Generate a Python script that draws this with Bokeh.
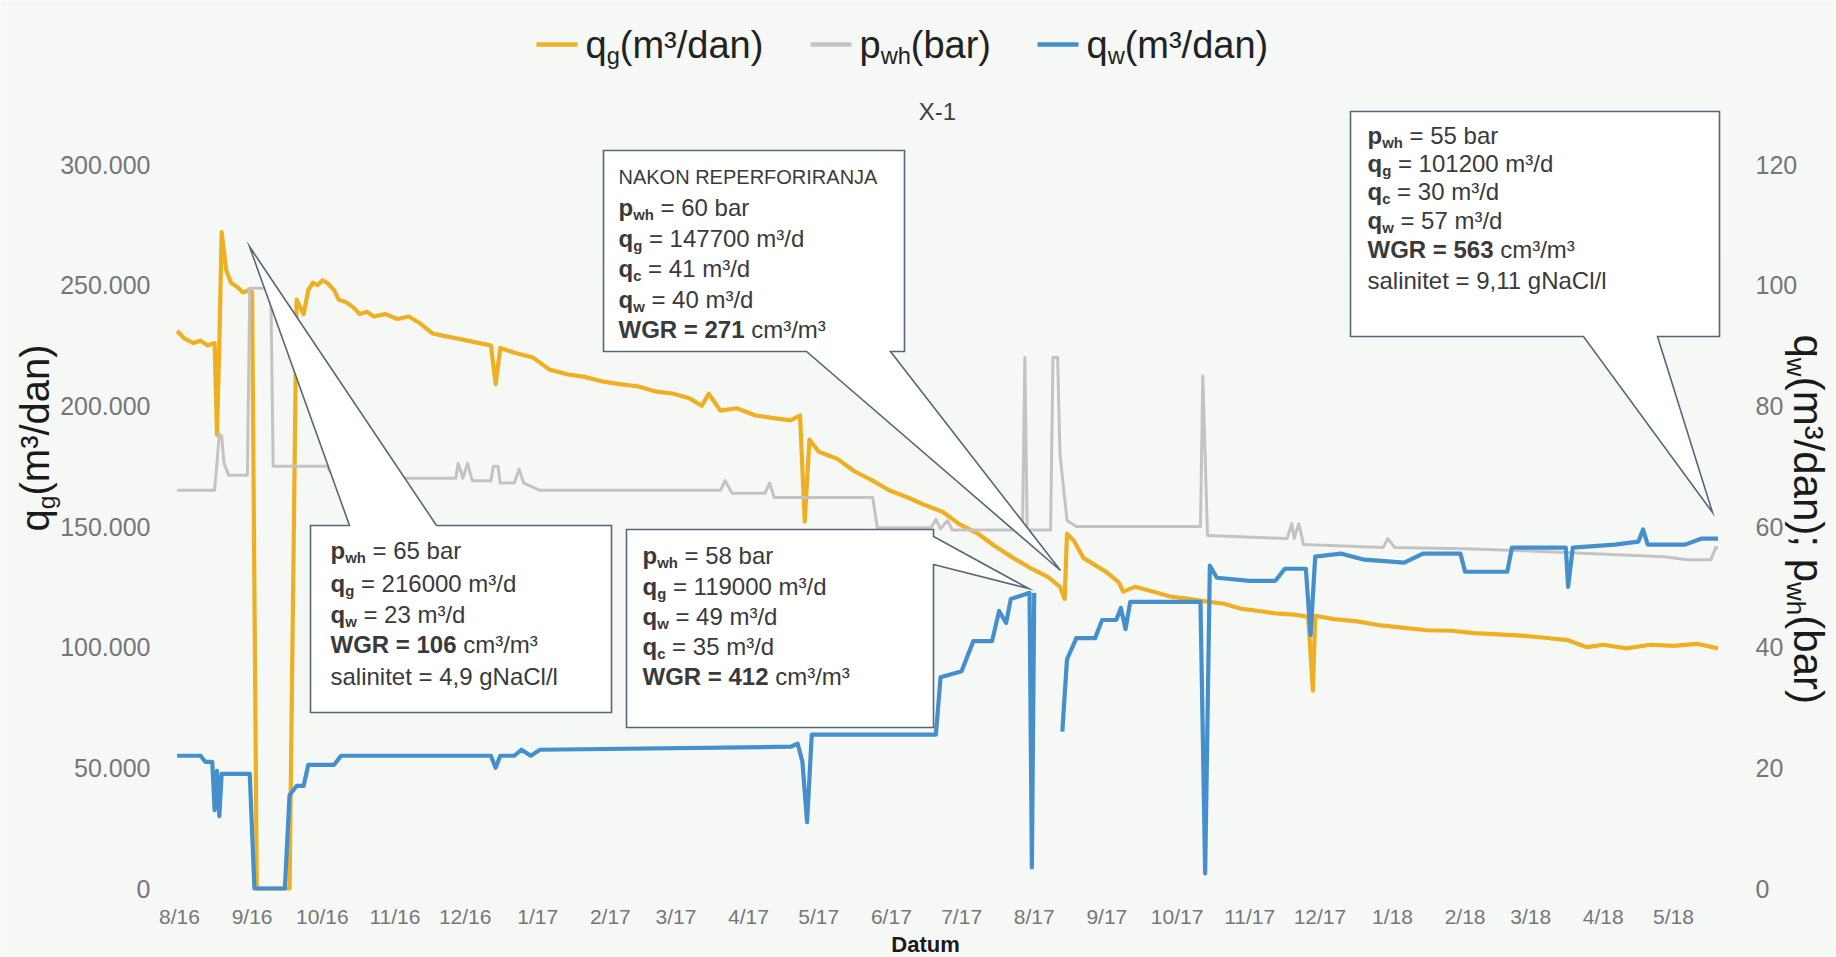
import numpy as np
import pandas as pd
from bokeh.plotting import figure
from bokeh.models import Range1d, LinearAxis, FixedTicker, CustomJSTickFormatter, Label
from bokeh.embed import file_html
from bokeh.resources import INLINE

# ---------------- data ----------------
X_TICK_LABELS = ["8/16", "9/16", "10/16", "11/16", "12/16", "1/17", "2/17", "3/17", "4/17",
                 "5/17", "6/17", "7/17", "8/17", "9/17", "10/17", "11/17", "12/17", "1/18",
                 "2/18", "3/18", "4/18", "5/18"]
LEFT_TICKS = [0, 50000, 100000, 150000, 200000, 250000, 300000]
LEFT_TICK_LABELS = ["0", "50.000", "100.000", "150.000", "200.000", "250.000", "300.000"]
RIGHT_TICKS = [0, 20, 40, 60, 80, 100, 120]
RIGHT_TICK_LABELS = ["0", "20", "40", "60", "80", "100", "120"]

QG_DATES = ["2016-07-31", "2016-08-03", "2016-08-07", "2016-08-10", "2016-08-13", "2016-08-16",
            "2016-08-17", "2016-08-18", "2016-08-19", "2016-08-21", "2016-08-23", "2016-08-26",
            "2016-08-28", "2016-08-31", "2016-09-01", "2016-09-03", "2016-09-17", "2016-09-20",
            "2016-09-21", "2016-09-23", "2016-09-25", "2016-09-27", "2016-09-29", "2016-10-01",
            "2016-10-03", "2016-10-06", "2016-10-08", "2016-10-11", "2016-10-14", "2016-10-17",
            "2016-10-20", "2016-10-23", "2016-10-28", "2016-11-02", "2016-11-07", "2016-11-12",
            "2016-11-17", "2016-11-22", "2016-11-27", "2016-12-02", "2016-12-07", "2016-12-12",
            "2016-12-14", "2016-12-16", "2016-12-22", "2016-12-30", "2017-01-06", "2017-01-14",
            "2017-01-21", "2017-01-29", "2017-02-05", "2017-02-13", "2017-02-20", "2017-02-28",
            "2017-03-07", "2017-03-12", "2017-03-15", "2017-03-20", "2017-03-27", "2017-04-04",
            "2017-04-11", "2017-04-19", "2017-04-23", "2017-04-25", "2017-04-27", "2017-05-01",
            "2017-05-09", "2017-05-16", "2017-05-24", "2017-05-31", "2017-06-08", "2017-06-15",
            "2017-06-23", "2017-06-30", "2017-07-08", "2017-07-15", "2017-07-23", "2017-07-30",
            "2017-08-07", "2017-08-12", "2017-08-14", "2017-08-15", "2017-08-18", "2017-08-22",
            "2017-08-27", "2017-09-01", "2017-09-06", "2017-09-08", "2017-09-13", "2017-09-21",
            "2017-09-28", "2017-10-06", "2017-10-13", "2017-10-21", "2017-10-28", "2017-11-05",
            "2017-11-12", "2017-11-20", "2017-11-26", "2017-11-28", "2017-11-29", "2017-12-07",
            "2017-12-17", "2017-12-27", "2018-01-06", "2018-01-16", "2018-01-26", "2018-02-05",
            "2018-02-15", "2018-02-25", "2018-03-07", "2018-03-17", "2018-03-25", "2018-04-01",
            "2018-04-11", "2018-04-21", "2018-05-01", "2018-05-11", "2018-05-20"]
QG_VALUES = [231000, 228000, 226000, 227000, 225000, 226000,
             188000, 225000, 272000, 256000, 251000, 249000,
             247000, 248000, 247000, 0, 0, 244000,
             242000, 238000, 248000, 251000, 250000, 252000,
             251000, 248000, 244000, 243000, 241000, 238000,
             239000, 237000, 238000, 236000, 237000, 234000,
             230000, 229000, 228000, 227000, 226000, 225000,
             209000, 224000, 222000, 220000, 215000, 213000,
             212000, 210000, 209000, 208000, 206000, 205000,
             203000, 200000, 205000, 198000, 199000, 196000,
             195000, 194000, 196000, 152000, 186000, 181000,
             178000, 173000, 169000, 165000, 162000, 159000,
             156000, 151000, 147000, 142000, 137000, 133000,
             129000, 125000, 120000, 147000, 144000, 137000,
             134000, 131000, 127000, 123000, 125000, 123000,
             121000, 120000, 119000, 118000, 116000, 115000,
             114000, 113500, 112600, 82000, 113000, 111600,
             110700, 109000, 108000, 107000, 106800, 105800,
             105300, 104800, 103900, 102900, 100000, 101000,
             99500, 101000, 100500, 101400, 99500]

PWH_DATES = ["2016-07-31", "2016-08-16", "2016-08-18", "2016-08-19", "2016-08-20", "2016-08-22",
             "2016-08-30", "2016-08-31", "2016-09-09", "2016-09-10", "2016-10-03", "2016-10-05",
             "2016-10-07", "2016-10-09", "2016-11-27", "2016-11-28", "2016-11-30", "2016-12-02",
             "2016-12-04", "2016-12-12", "2016-12-13", "2016-12-15", "2016-12-16", "2016-12-22",
             "2016-12-24", "2016-12-26", "2017-01-02", "2017-03-20", "2017-03-22", "2017-03-25",
             "2017-04-08", "2017-04-10", "2017-04-12", "2017-05-24", "2017-05-26", "2017-06-18",
             "2017-06-20", "2017-06-22", "2017-06-25", "2017-06-27", "2017-07-27", "2017-07-28",
             "2017-07-29", "2017-08-08", "2017-08-09", "2017-08-11", "2017-08-12", "2017-08-15",
             "2017-08-19", "2017-10-11", "2017-10-12", "2017-10-14", "2017-11-17", "2017-11-19",
             "2017-11-20", "2017-11-22", "2017-11-24", "2017-12-28", "2017-12-30", "2018-01-02",
             "2018-02-01", "2018-02-26", "2018-03-28", "2018-04-27", "2018-05-07", "2018-05-17",
             "2018-05-19", "2018-05-20"]
PWH_VALUES = [66, 66, 75.3, 75, 70.5, 68.5,
              68.5, 99.5, 99.5, 70, 70, 68.7,
              69.5, 68, 68, 70.5, 68, 70.5,
              67.6, 67.6, 70, 70, 67.2, 67.2,
              69.5, 67.2, 66, 66, 67.6, 65.5,
              65.5, 67.2, 64.8, 64.8, 59.8, 59.8,
              61.2, 59.6, 61, 59.4, 59.4, 88,
              59.4, 59.4, 88, 88, 72, 61,
              60, 60, 85, 58.5, 58, 60.5,
              58, 60.5, 57, 56.5, 58, 56.5,
              56.3, 56, 55.5, 55, 54.5, 54.5,
              56.5, 56.5]

QW_DATES = ["2016-07-31", "2016-08-10", "2016-08-12", "2016-08-15", "2016-08-16", "2016-08-17",
            "2016-08-18", "2016-08-19", "2016-08-31", "2016-09-02", "2016-09-15", "2016-09-17",
            "2016-09-20", "2016-09-23", "2016-09-25", "2016-10-06", "2016-10-09", "2016-12-12",
            "2016-12-14", "2016-12-16", "2016-12-22", "2016-12-25", "2016-12-29", "2017-01-02",
            "2017-04-19", "2017-04-22", "2017-04-24", "2017-04-26", "2017-04-28", "2017-06-20",
            "2017-06-22", "2017-07-01", "2017-07-06", "2017-07-14", "2017-07-17", "2017-07-20",
            "2017-07-22", "2017-07-26", "2017-07-30", "2017-07-31", "2017-08-01", "2017-08-02",
            "2017-08-13", "2017-08-15", "2017-08-19", "2017-08-27", "2017-08-30", "2017-09-05",
            "2017-09-07", "2017-09-09", "2017-09-11", "2017-10-10", "2017-10-11", "2017-10-13",
            "2017-10-15", "2017-10-18", "2017-11-01", "2017-11-12", "2017-11-16", "2017-11-25",
            "2017-11-27", "2017-11-29", "2017-12-10", "2017-12-20", "2018-01-06", "2018-01-14",
            "2018-01-30", "2018-02-01", "2018-02-19", "2018-02-21", "2018-03-16", "2018-03-17",
            "2018-03-19", "2018-04-06", "2018-04-16", "2018-04-18", "2018-04-20", "2018-05-06",
            "2018-05-13", "2018-05-20"]
QW_VALUES = [22, 22, 21, 21, 13, 19.5,
             12, 19, 19, 0, 0, 15.5,
             17, 17, 20.5, 20.5, 22, 22,
             20, 22, 22, 23, 22, 23,
             23.5, 24, 21, 11, 25.5, 25.5,
             35, 36, 41, 41, 46, 44,
             48, 48.5, 49, 3.5, 49, float("nan"),
             26, 38, 41.5, 41.5, 44.5, 44.5,
             46.5, 43, 47.5, 47.5, 47.5, 2.5,
             53.5, 51.5, 51, 51, 53, 53,
             42, 55, 55.5, 54.5, 54, 55.5,
             55.5, 52.5, 52.5, 56.5, 56.5, 50,
             56.5, 57, 57.5, 59.5, 57, 57,
             58, 58]

# ---------------- layout ----------------
W, H = 1836, 957
PXD = 2.3417                         # px per day
MS_DAY = 86400000.0
T0MS = pd.Timestamp("2016-08-01").value / 1e6
K = 300000.0 / 724.0                 # left-axis units per px
RATIO = 2500.0                       # left / right axis scale

BG = "#F6F8F6"
ORANGE = "#EEB022"
GREY = "#C3C3C3"
BLUE = "#4590CC"
BOX_LINE = "#56677A"
TXT = "#3a3a3a"
FONT = "Liberation Sans"


def X(ax):  # page x px -> data (ms)
    return T0MS + (ax - 179.0) / PXD * MS_DAY


def Y(ay):  # page y px -> left-axis data
    return (888.0 - ay) * K


p = figure(width=W, height=H, x_axis_type="datetime",
           x_range=Range1d(X(0), X(W)), y_range=Range1d(Y(H), Y(0)),
           output_backend="svg", toolbar_location=None, tools="",
           min_border=0, min_border_left=0, min_border_right=0,
           min_border_top=0, min_border_bottom=0,
           background_fill_color=BG, border_fill_color=BG)
p.outline_line_color = None
p.grid.visible = False
p.extra_y_ranges = {"right": Range1d(Y(H) / RATIO, Y(0) / RATIO)}

FMT_CODE = """
for (let i = 0; i < tv.length; i++) { if (Math.abs(tv[i] - tick) < 1e-6 * Math.max(1, Math.abs(tick))) return tl[i]; }
return "";
"""

month_ms = []
for lab in X_TICK_LABELS:
    m, yy = lab.split("/")
    month_ms.append(pd.Timestamp(2000 + int(yy), int(m), 1).value / 1e6)


def style_axis(ax, size, standoff):
    ax.axis_line_color = None
    ax.major_tick_line_color = None
    ax.minor_tick_line_color = None
    ax.major_tick_out = 0
    ax.major_tick_in = 0
    ax.major_label_text_font = FONT
    ax.major_label_text_font_size = size
    ax.major_label_text_color = "#767676"
    ax.major_label_standoff = standoff


xa = p.xaxis[0]
xa.ticker = FixedTicker(ticks=month_ms)
xa.formatter = CustomJSTickFormatter(args=dict(tv=month_ms, tl=X_TICK_LABELS), code=FMT_CODE)
xa.fixed_location = 0
style_axis(xa, "21px", 16)

ya = p.yaxis[0]
ya.ticker = FixedTicker(ticks=LEFT_TICKS)
ya.formatter = CustomJSTickFormatter(args=dict(tv=LEFT_TICKS, tl=LEFT_TICK_LABELS), code=FMT_CODE)
ya.fixed_location = X(160)
style_axis(ya, "25px", 10)

ra = LinearAxis(y_range_name="right")
ra.ticker = FixedTicker(ticks=RIGHT_TICKS)
ra.formatter = CustomJSTickFormatter(args=dict(tv=RIGHT_TICKS, tl=RIGHT_TICK_LABELS), code=FMT_CODE)
ra.fixed_location = X(1740)
style_axis(ra, "25px", 15)
p.add_layout(ra, "right")

# ---------------- series ----------------
p.line(pd.to_datetime(QG_DATES), np.array(QG_VALUES, dtype=float),
       line_color=ORANGE, line_width=4.2, line_join="round")
p.line(pd.to_datetime(PWH_DATES), np.array(PWH_VALUES, dtype=float), y_range_name="right",
       line_color=GREY, line_width=3, line_join="round")
p.line(pd.to_datetime(QW_DATES), np.array(QW_VALUES, dtype=float), y_range_name="right",
       line_color=BLUE, line_width=4.2, line_join="round")

# ---------------- callout shapes ----------------
CALLOUT_SHAPES = [
    [(310, 525), (349, 525), (249, 246), (436, 525), (611, 525), (611, 712), (310, 712)],
    [(626, 529), (933, 529), (933, 536), (1028, 588), (933, 564), (933, 727), (626, 727)],
    [(603, 150), (904, 150), (904, 351), (890, 351), (1060, 570), (806, 351), (603, 351)],
    [(1350, 111), (1719, 111), (1719, 336), (1657, 336), (1712, 512), (1583, 336), (1350, 336)],
]
for pts in CALLOUT_SHAPES:
    p.patch([X(a) for a, b in pts], [Y(b) for a, b in pts], fill_color="#FFFFFF",
            line_color=BOX_LINE, line_width=1.6, line_join="miter")

# ---------------- rich text helper ----------------
REG_W = {" ": .278, "(": .333, ")": .333, ",": .278, "-": .333, ".": .278, "/": .278, ";": .278,
         "=": .584, "A": .667, "C": .722, "D": .722, "E": .667, "F": .611, "G": .778, "I": .278,
         "J": .5, "K": .667, "N": .722, "O": .778, "P": .667, "R": .722, "W": .944, "X": .667,
         "a": .556, "b": .556, "c": .5, "d": .556, "e": .556, "g": .556, "h": .556, "i": .222,
         "l": .222, "m": .833, "n": .556, "p": .556, "q": .556, "r": .333, "s": .5, "t": .278,
         "u": .556, "w": .722, "³": .333}
BOLD_W = {" ": .278, "=": .584, "G": .778, "R": .722, "W": .944, "c": .556, "g": .611, "h": .611,
          "p": .611, "q": .611, "w": .778, "D": .722, "a": .556, "t": .333, "u": .611, "m": .889}
SUB_SCALE, SUB_SHIFT = 0.62, 0.30


def tw(s, fs, bold):
    tbl = BOLD_W if bold else REG_W
    return sum(tbl.get(c, 0.556) for c in s) * fs


def rich(ax, ay, pieces, size, color=TXT, angle=0.0):
    pos = 0.0
    for txt, kind in pieces:
        bold = "b" in kind
        sub = "s" in kind
        fs = size * SUB_SCALE if sub else size
        sh = size * SUB_SHIFT if sub else 0.0
        core = txt.lstrip(" ")
        pos += tw(txt[:len(txt) - len(core)], fs, bold)   # leading spaces advance only
        if angle == 0:
            px, py = ax + pos, ay + sh
        elif angle > 0:
            px, py = ax + sh, ay - pos
        else:
            px, py = ax - sh, ay + pos
        p.add_layout(Label(x=X(px), y=Y(py), text=core, text_font=FONT,
                           text_font_size=f"{fs:.1f}px",
                           text_font_style="bold" if bold else "normal",
                           text_color=color, text_align="left", text_baseline="middle",
                           angle=angle))
        pos += tw(core, fs, bold)


def kv(sym, sub, rest):
    return [(sym, "b"), (sub, "sb"), (rest, "r")]


CALLOUT_TEXT = [
    (330, [550, 583, 614, 644, 676], [
        kv("p", "wh", " = 65 bar"), kv("q", "g", " = 216000 m³/d"), kv("q", "w", " = 23 m³/d"),
        [("WGR = 106", "b"), (" cm³/m³", "r")], [("salinitet = 4,9 gNaCl/l", "r")]]),
    (642, [555, 586, 616, 646, 676], [
        kv("p", "wh", " = 58 bar"), kv("q", "g", " = 119000 m³/d"), kv("q", "w", " = 49 m³/d"),
        kv("q", "c", " = 35 m³/d"), [("WGR = 412", "b"), (" cm³/m³", "r")]]),
    (618, [207, 238, 268, 299, 329], [
        kv("p", "wh", " = 60 bar"), kv("q", "g", " = 147700 m³/d"), kv("q", "c", " = 41 m³/d"),
        kv("q", "w", " = 40 m³/d"), [("WGR = 271", "b"), (" cm³/m³", "r")]]),
    (1367, [135, 163, 191, 220, 249, 280], [
        kv("p", "wh", " = 55 bar"), kv("q", "g", " = 101200 m³/d"), kv("q", "c", " = 30 m³/d"),
        kv("q", "w", " = 57 m³/d"), [("WGR = 563", "b"), (" cm³/m³", "r")],
        [("salinitet = 9,11 gNaCl/l", "r")]]),
]
for ax, ys, lines in CALLOUT_TEXT:
    for ay, pieces in zip(ys, lines):
        rich(ax, ay, pieces, 24)
rich(618, 176, [("NAKON REPERFORIRANJA", "r")], 20)

# ---------------- legend ----------------
LEGEND = [
    (536, ORANGE, [("q", "r"), ("g", "s"), ("(m³/dan)", "r")]),
    (810, GREY, [("p", "r"), ("wh", "s"), ("(bar)", "r")]),
    (1037, BLUE, [("q", "r"), ("w", "s"), ("(m³/dan)", "r")]),
]
for lx, col, pieces in LEGEND:
    p.line([X(lx), X(lx + 41)], [Y(44), Y(44)], line_color=col, line_width=4.5)
    rich(lx + 49, 44, pieces, 38, color="#222222")

# ---------------- titles ----------------
p.add_layout(Label(x=X(937), y=Y(111), text="X-1", text_font=FONT, text_font_size="24px",
                   text_color="#404040", text_align="center", text_baseline="middle"))
p.add_layout(Label(x=X(925), y=Y(944), text="Datum", text_font=FONT, text_font_size="22px",
                   text_font_style="bold", text_color="#1a1a1a", text_align="center",
                   text_baseline="middle"))
rich(34, 531, [("q", "r"), ("g", "s"), ("(m³/dan)", "r")], 40, color="#1a1a1a", angle=np.pi / 2)
rich(1808, 334, [("q", "r"), ("w", "s"), ("(m³/dan); ", "r"), ("p", "r"), ("wh", "s"), ("(bar)", "r")],
     42, color="#1a1a1a", angle=-np.pi / 2)

open("out.html", "w").write(file_html(p, INLINE))
